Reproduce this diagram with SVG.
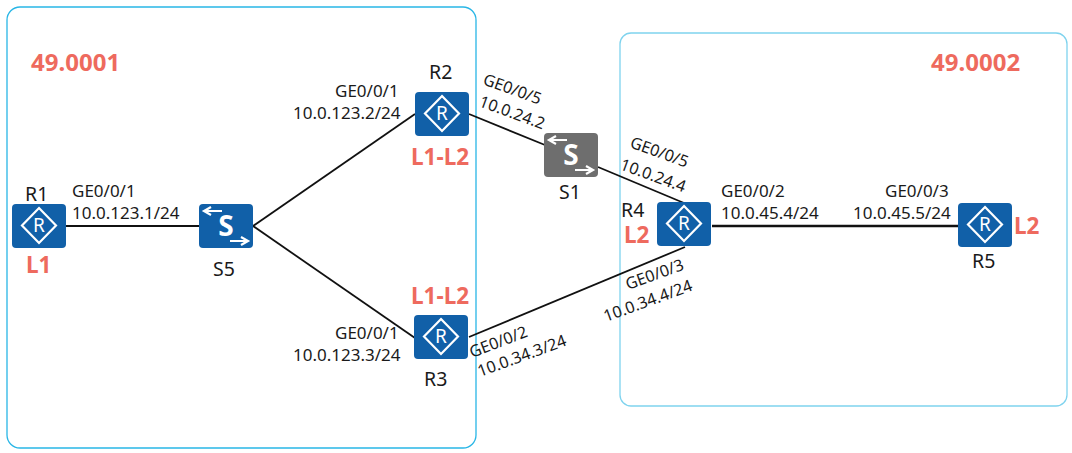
<svg xmlns="http://www.w3.org/2000/svg" width="1072" height="453" viewBox="0 0 1072 453">
<style>
text{font-family:"Noto Sans","Open Sans","DejaVu Sans",sans-serif;fill:#1a1a1a}
.l{font-size:17px}
.r{font-size:16.2px}
.n{font-size:19.5px}
.a{font-size:22.5px;font-weight:700;fill:#ee6a5e}
.z{font-size:24px}
.body{fill:#1160a8}
.sw{fill:#6e6e6e}
.g{fill:none;stroke:#fff;stroke-width:2.2}
.c{stroke:#111;stroke-width:1.8;fill:none}
</style>
<defs>
<g id="router"><rect class="body" width="54" height="44" rx="4"/><path class="g" d="M27 4 44 21.500 27 39 10 21.500Z"/><text x="27" y="28" text-anchor="middle" style="fill:#fff;font-size:19px">R</text></g>
<g id="switch"><rect width="54" height="44" rx="4"/><path class="g" d="M23 7H6M12 3 5 7 12 11M31 37H48M42 33 49 37 42 41"/><text x="27" y="32" text-anchor="middle" style="fill:#fff;font-size:28px;font-weight:700">S</text></g>
</defs>
<rect width="1072" height="453" fill="#fff"/>
<rect x="7" y="7" width="469" height="441" rx="13" fill="none" stroke="#29b6e6" stroke-width="1.3"/>
<rect x="620" y="33" width="447" height="373" rx="11" fill="none" stroke="#7fd3ee" stroke-width="1.3"/>
<text class="a z" x="31" y="71">49.0001</text>
<text class="a z" x="931" y="71">49.0002</text>
<g id="connectors">
<line class="c" x1="66" y1="226" x2="199" y2="226"/>
<line class="c" x1="253" y1="226" x2="415" y2="114"/>
<line class="c" x1="253" y1="226" x2="415" y2="338"/>
<line class="c" x1="469" y1="114" x2="545" y2="145"/>
<line class="c" x1="598" y1="167" x2="684" y2="203"/>
<line class="c" x1="469" y1="337" x2="685" y2="247"/>
<line class="c" x1="712" y1="226" x2="958" y2="226" style="stroke-width:2.4"/>
</g>
<g id="R1"><use href="#router" x="12" y="204"/><text class="n" x="25" y="201">R1</text><text class="a" x="26" y="273">L1</text></g>
<g id="S5"><use href="#switch" x="199" y="204" class="body"/><text class="n" x="213" y="276">S5</text></g>
<g id="R2"><use href="#router" x="415" y="92"/><text class="n" x="429" y="79">R2</text><text class="a" x="411" y="165">L1-L2</text></g>
<g id="R3"><use href="#router" x="414" y="315"/><text class="n" x="424" y="386">R3</text><text class="a" x="411" y="304">L1-L2</text></g>
<g id="S1"><use href="#switch" x="544" y="133" class="sw"/><text class="n" x="559" y="199">S1</text></g>
<g id="R4"><use href="#router" x="657" y="202"/><text class="n" x="621" y="217">R4</text><text class="a" x="624" y="243">L2</text></g>
<g id="R5"><use href="#router" x="958" y="203"/><text class="n" x="972" y="268">R5</text><text class="a" x="1014" y="234">L2</text></g>
<g id="labels">
<text class="l" x="72" y="197">GE0/0/1</text><text class="l" x="72" y="219">10.0.123.1/24</text>
<text class="l" x="335" y="97">GE0/0/1</text><text class="l" x="293" y="119">10.0.123.2/24</text>
<text class="l" x="335" y="339">GE0/0/1</text><text class="l" x="293" y="361">10.0.123.3/24</text>
<text class="r" transform="translate(482 84) rotate(20)">GE0/0/5</text>
<text class="r" transform="translate(478 106) rotate(20)">10.0.24.2</text>
<text class="r" transform="translate(629 147) rotate(20)">GE0/0/5</text>
<text class="r" transform="translate(619 169) rotate(20)">10.0.24.4</text>
<text class="l" x="721" y="197">GE0/0/2</text><text class="l" x="721" y="219">10.0.45.4/24</text>
<text class="l" x="885" y="197">GE0/0/3</text><text class="l" x="853" y="219">10.0.45.5/24</text>
<text class="r" transform="translate(472 358) rotate(-21)">GE0/0/2</text>
<text class="r" transform="translate(480 377) rotate(-20)">10.0.34.3/24</text>
<text class="r" transform="translate(628 290) rotate(-20)">GE0/0/3</text>
<text class="r" transform="translate(606 322) rotate(-20)">10.0.34.4/24</text>
</g>
</svg>
